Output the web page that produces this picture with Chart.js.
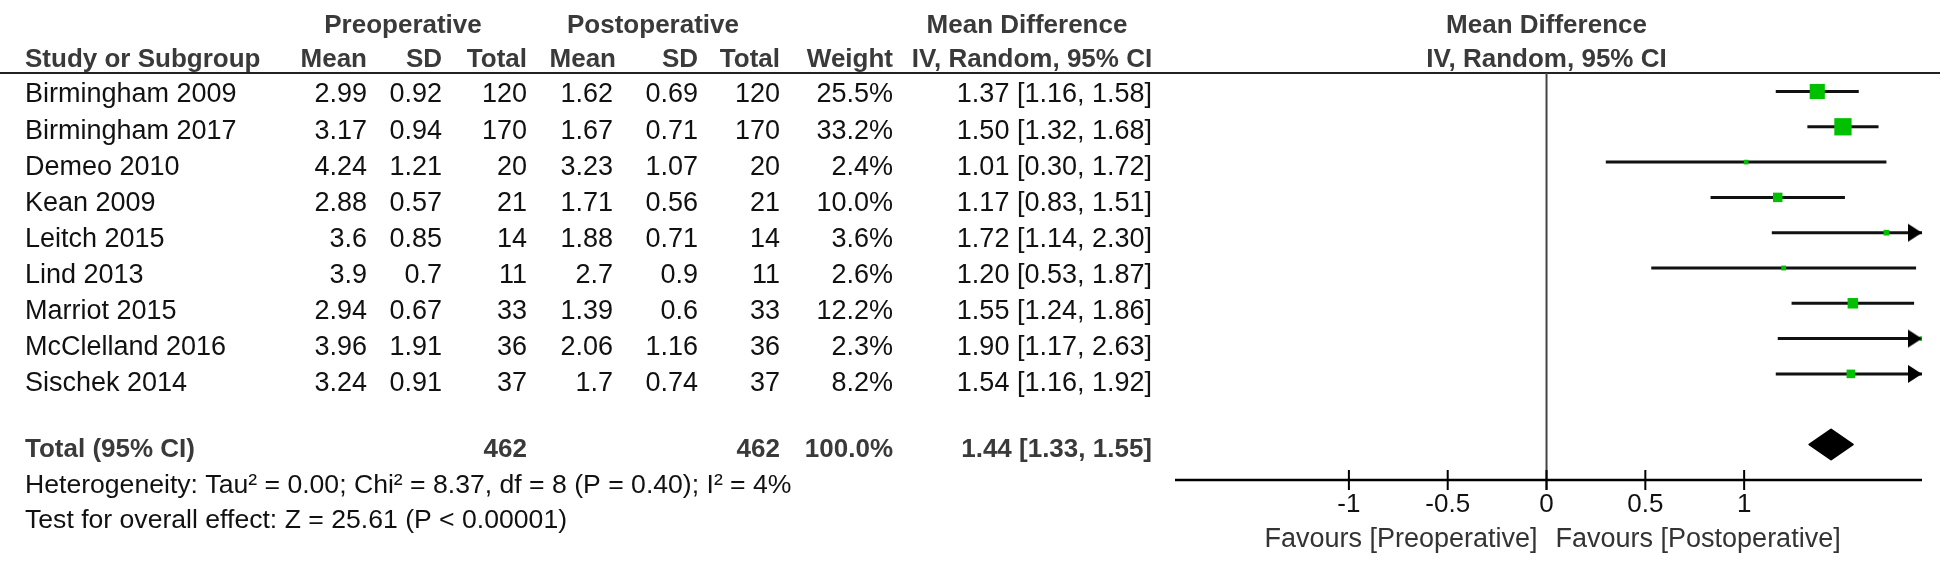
<!DOCTYPE html>
<html>
<head>
<meta charset="utf-8">
<script src="https://cdn.jsdelivr.net/npm/chart.js@4"></script>
<style>
  html, body { margin: 0; padding: 0; background: #fff; }
  canvas { display: block; }
</style>
</head>
<body>
<canvas id="forest" width="1946" height="562"></canvas>
<script>
// study data
const studies = ["Birmingham 2009", "Birmingham 2017", "Demeo 2010", "Kean 2009", "Leitch 2015",
  "Lind 2013", "Marriot 2015", "McClelland 2016", "Sischek 2014"];
const preMean = [2.99, 3.17, 4.24, 2.88, 3.6, 3.9, 2.94, 3.96, 3.24];
const preSD = [0.92, 0.94, 1.21, 0.57, 0.85, 0.7, 0.67, 1.91, 0.91];
const preTotal = [120, 170, 20, 21, 14, 11, 33, 36, 37];
const postMean = [1.62, 1.67, 3.23, 1.71, 1.88, 2.7, 1.39, 2.06, 1.7];
const postSD = [0.69, 0.71, 1.07, 0.56, 0.71, 0.9, 0.6, 1.16, 0.74];
const postTotal = [120, 170, 20, 21, 14, 11, 33, 36, 37];
const weights = [25.5, 33.2, 2.4, 10.0, 3.6, 2.6, 12.2, 2.3, 8.2];
const meanDiff = [1.37, 1.50, 1.01, 1.17, 1.72, 1.20, 1.55, 1.90, 1.54];
const ciLow = [1.16, 1.32, 0.30, 0.83, 1.14, 0.53, 1.24, 1.17, 1.16];
const ciHigh = [1.58, 1.68, 1.72, 1.51, 2.30, 1.87, 1.86, 2.63, 1.92];

// pooled result: [low, estimate, high]
const pooled = [1.33, 1.44, 1.55];
const totalN = [462, 462];
const totalWeight = "100.0%";

const tickValues = [-1, -0.5, 0, 0.5, 1];
const xMin = -1.88;
const xMax = 1.9;

const heterogeneity = "Heterogeneity: Tau\u00b2 = 0.00; Chi\u00b2 = 8.37, df = 8 (P = 0.40); I\u00b2 = 4%";
const overallTest = "Test for overall effect: Z = 25.61 (P < 0.00001)";

const FONT = "'Liberation Sans', Arial, sans-serif";
const GREEN = "#00c000";
const totalRow = studies.length + 1;

// arrow head for clipped CIs, tip sits at the canvas centre
function makeArrow() {
  const c = document.createElement("canvas");
  c.width = 30;
  c.height = 20;
  const g = c.getContext("2d");
  g.fillStyle = "#000";
  g.beginPath();
  g.moveTo(1, 1);
  g.lineTo(15, 10);
  g.lineTo(1, 19);
  g.closePath();
  g.fill();
  return c;
}

const ciSets = studies.map((s, i) => ({
  type: "line",
  order: 3,
  data: [
    { x: Math.max(ciLow[i], xMin), y: i },
    { x: Math.min(ciHigh[i], xMax), y: i },
  ],
  borderColor: "#111",
  borderWidth: 3,
  pointRadius: 0,
}));

const squareSet = {
  type: "scatter",
  order: 2,
  data: studies.map((s, i) => ({ x: meanDiff[i], y: i })),
  pointStyle: "rect",
  pointRadius: weights.map((w) => (3.0 * Math.sqrt(w)) / Math.SQRT2),
  backgroundColor: GREEN,
  borderColor: GREEN,
  borderWidth: 0,
};

const arrowSet = {
  type: "scatter",
  order: 1,
  clip: false,
  data: studies
    .map((s, i) => ({ x: xMax, y: i, hi: ciHigh[i] }))
    .filter((p) => p.hi > xMax),
  pointStyle: makeArrow(),
  pointRadius: 10,
};

function txt(ctx, str, x, y, align, bold, size, color) {
  ctx.font = (bold ? "bold " : "") + size + "px " + FONT;
  ctx.textAlign = align;
  ctx.textBaseline = "middle";
  ctx.fillStyle = color;
  ctx.fillText(str, x, y);
}

// table columns (right edges) and row layout
const cols = { study: 25, preMean: 367, preSD: 442, preTotal: 527, postMean: 613, postSD: 698, postTotal: 780, weight: 893, ci: 1152 };
const rowY = (i) => 95 + 36.1 * i;

const forestDecor = {
  id: "forestDecor",
  beforeDatasetsDraw(chart) {
    const ctx = chart.ctx;
    const xs = chart.scales.x;
    const area = chart.chartArea;
    const zero = xs.getPixelForValue(0);
    ctx.save();
    // header rule
    ctx.strokeStyle = "#222";
    ctx.lineWidth = 2;
    ctx.beginPath();
    ctx.moveTo(0, area.top);
    ctx.lineTo(chart.width - 6, area.top);
    ctx.stroke();
    // line of no effect
    ctx.strokeStyle = "#444";
    ctx.beginPath();
    ctx.moveTo(zero, area.top);
    ctx.lineTo(zero, area.bottom + 10);
    ctx.stroke();
    // x axis
    ctx.strokeStyle = "#000";
    ctx.lineWidth = 2.5;
    ctx.beginPath();
    ctx.moveTo(area.left, area.bottom);
    ctx.lineTo(area.right, area.bottom);
    ctx.stroke();
    ctx.lineWidth = 2;
    tickValues.forEach((t) => {
      const px = xs.getPixelForValue(t);
      ctx.beginPath();
      ctx.moveTo(px, area.bottom - 10);
      ctx.lineTo(px, area.bottom + 10);
      ctx.stroke();
      txt(ctx, String(t), px, area.bottom + 25, "center", false, 26, "#111");
    });
    txt(ctx, "Favours [Preoperative]", zero - 9, area.bottom + 60, "right", false, 27, "#333");
    txt(ctx, "Favours [Postoperative]", zero + 9, area.bottom + 60, "left", false, 27, "#333");
    ctx.restore();
  },
  afterDatasetsDraw(chart) {
    const ctx = chart.ctx;
    const xs = chart.scales.x;
    const ys = chart.scales.y;
    ctx.save();
    // pooled diamond
    const dy = ys.getPixelForValue(totalRow);
    ctx.fillStyle = "#000";
    ctx.strokeStyle = "#000";
    ctx.lineWidth = 2;
    ctx.lineJoin = "round";
    ctx.beginPath();
    ctx.moveTo(xs.getPixelForValue(pooled[0]), dy);
    ctx.lineTo(xs.getPixelForValue(pooled[1]), dy - 15);
    ctx.lineTo(xs.getPixelForValue(pooled[2]), dy);
    ctx.lineTo(xs.getPixelForValue(pooled[1]), dy + 15);
    ctx.closePath();
    ctx.fill();
    ctx.stroke();

    // headers
    const hc = "#3a3a3a";
    txt(ctx, "Preoperative", 403, 26, "center", true, 26, hc);
    txt(ctx, "Postoperative", 653, 26, "center", true, 26, hc);
    txt(ctx, "Mean Difference", 1027, 26, "center", true, 26, hc);
    txt(ctx, "Mean Difference", xs.getPixelForValue(0), 26, "center", true, 26, hc);
    txt(ctx, "Study or Subgroup", cols.study, 60, "left", true, 26, hc);
    txt(ctx, "Mean", cols.preMean, 60, "right", true, 26, hc);
    txt(ctx, "SD", cols.preSD, 60, "right", true, 26, hc);
    txt(ctx, "Total", cols.preTotal, 60, "right", true, 26, hc);
    txt(ctx, "Mean", cols.postMean + 3, 60, "right", true, 26, hc);
    txt(ctx, "SD", cols.postSD, 60, "right", true, 26, hc);
    txt(ctx, "Total", cols.postTotal, 60, "right", true, 26, hc);
    txt(ctx, "Weight", cols.weight, 60, "right", true, 26, hc);
    txt(ctx, "IV, Random, 95% CI", 1032, 60, "center", true, 26, hc);
    txt(ctx, "IV, Random, 95% CI", xs.getPixelForValue(0), 60, "center", true, 26, hc);

    // study rows
    const bc = "#111";
    studies.forEach((s, i) => {
      const y = rowY(i);
      txt(ctx, s, cols.study, y, "left", false, 27, bc);
      txt(ctx, String(preMean[i]), cols.preMean, y, "right", false, 27, bc);
      txt(ctx, String(preSD[i]), cols.preSD, y, "right", false, 27, bc);
      txt(ctx, String(preTotal[i]), cols.preTotal, y, "right", false, 27, bc);
      txt(ctx, String(postMean[i]), cols.postMean, y, "right", false, 27, bc);
      txt(ctx, String(postSD[i]), cols.postSD, y, "right", false, 27, bc);
      txt(ctx, String(postTotal[i]), cols.postTotal, y, "right", false, 27, bc);
      txt(ctx, weights[i].toFixed(1) + "%", cols.weight, y, "right", false, 27, bc);
      const ci = meanDiff[i].toFixed(2) + " [" + ciLow[i].toFixed(2) + ", " + ciHigh[i].toFixed(2) + "]";
      txt(ctx, ci, cols.ci, y, "right", false, 27, bc);
    });

    // total row + footers
    txt(ctx, "Total (95% CI)", cols.study, 450, "left", true, 26, hc);
    txt(ctx, String(totalN[0]), cols.preTotal, 450, "right", true, 26, hc);
    txt(ctx, String(totalN[1]), cols.postTotal, 450, "right", true, 26, hc);
    txt(ctx, totalWeight, cols.weight, 450, "right", true, 26, hc);
    const pci = pooled[1].toFixed(2) + " [" + pooled[0].toFixed(2) + ", " + pooled[2].toFixed(2) + "]";
    txt(ctx, pci, cols.ci, 450, "right", true, 26, hc);
    txt(ctx, heterogeneity, cols.study, 486, "left", false, 26.6, bc);
    txt(ctx, overallTest, cols.study, 521, "left", false, 26.6, bc);
    ctx.restore();
  },
};

new Chart(document.getElementById("forest"), {
  data: { datasets: [arrowSet, squareSet, ...ciSets] },
  options: {
    responsive: false,
    animation: false,
    devicePixelRatio: 1,
    layout: { padding: { left: 1175, right: 24, top: 73, bottom: 82 } },
    scales: {
      x: { type: "linear", min: xMin, max: xMax, display: false },
      y: { type: "linear", min: -0.524, max: 11.006, reverse: true, display: false },
    },
    plugins: { legend: { display: false }, tooltip: { enabled: false } },
  },
  plugins: [forestDecor],
});
</script>
</body>
</html>
